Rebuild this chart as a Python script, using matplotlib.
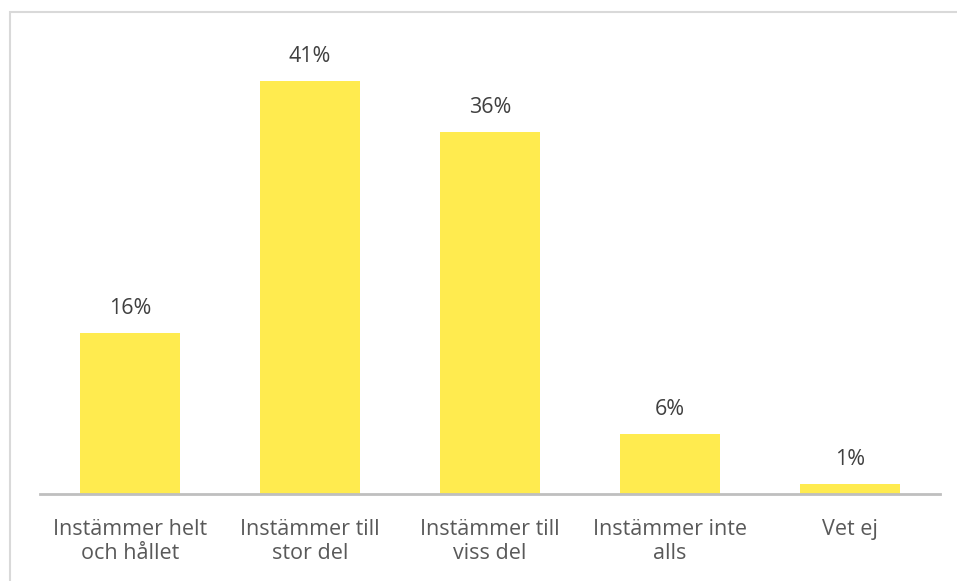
import matplotlib.pyplot as plt
from matplotlib.patches import Rectangle

categories = ["Instämmer helt\noch hållet", "Instämmer till\nstor del",
              "Instämmer till\nviss del", "Instämmer inte\nalls", "Vet ej"]
values = [16, 41, 36, 6, 1]
labels = ["16%", "41%", "36%", "6%", "1%"]

plt.rcParams['font.family'] = ['Open Sans', 'DejaVu Sans']

fig = plt.figure(figsize=(9.57, 5.81), dpi=100)
W, H = 957, 581

# outer chart frame (runs off right/bottom edges)
fig.patches.append(Rectangle((9.5 / W, -0.1), 1.2, 1.1 - 11.5 / H,
                             transform=fig.transFigure, fill=False,
                             edgecolor='#d9d9d9', linewidth=1.5))

ax = fig.add_axes([40 / W, (H - 494) / H, 900 / W, 453 / H])
x = range(len(categories))
bars = ax.bar(x, values, width=0.556, color='#FFEB4F')
ax.set_xlim(-0.5, len(categories) - 0.5)
ax.set_ylim(0, 45)

for b, lab in zip(bars, labels):
    ax.annotate(lab, (b.get_x() + b.get_width() / 2, b.get_height()),
                xytext=(0, 10), textcoords='offset points',
                ha='center', va='bottom', fontsize=15.5, color='#404040')

ax.set_xticks(list(x))
ax.set_xticklabels(categories, fontsize=15.5, color='#595959',
                   linespacing=1.2, multialignment='center')
ax.tick_params(axis='x', length=0, pad=18)
ax.set_yticks([])
for s in ['top', 'right', 'left']:
    ax.spines[s].set_visible(False)
ax.spines['bottom'].set_color('#bfbfbf')
ax.spines['bottom'].set_linewidth(2)

fig.savefig('out.png', dpi=100, facecolor='white')
